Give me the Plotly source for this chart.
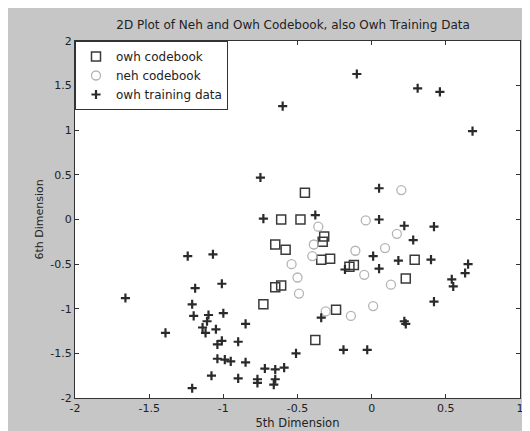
import plotly.graph_objects as go

# owh codebook (squares)
owh_cb_x = [-0.45, -0.61, -0.48, -0.65, -0.58, -0.32, -0.33, -0.34, -0.28, -0.15, -0.12, 0.29, 0.23, -0.65, -0.61, -0.24, -0.38, -0.73]
owh_cb_y = [0.30, 0.0, 0.0, -0.28, -0.34, -0.19, -0.25, -0.45, -0.44, -0.53, -0.51, -0.45, -0.66, -0.76, -0.74, -1.01, -1.35, -0.95]

# neh codebook (circles)
neh_cb_x = [0.20, -0.04, 0.17, 0.09, -0.11, -0.36, -0.39, -0.40, -0.54, -0.50, -0.49, -0.05, 0.13, 0.01, -0.14, -0.31]
neh_cb_y = [0.33, -0.01, -0.16, -0.32, -0.35, -0.08, -0.28, -0.41, -0.50, -0.65, -0.83, -0.62, -0.73, -0.97, -1.08, -1.03]

# owh training data (+)
owh_tr_x = [-0.60, -0.10, 0.31, 0.46, 0.68, 0.05, -0.38, 0.05, 0.22, 0.42, 0.28, 0.01, 0.18, 0.40, 0.05,
            -0.18, 0.65, 0.63, 0.54, 0.55, 0.42, 0.22, 0.23, -0.34, -0.51, -0.19, -0.03, -0.65, -0.59, -0.65,
            -0.66, -1.24, -1.07, -1.19, -1.66, -1.21, -1.20, -1.10, -1.11, -1.14, -1.12, -1.05, -1.39, -1.04, -1.04,
            -1.08, -1.21, -1.01, -1.00, -0.85, -1.01, -0.90, -0.99, -0.95, -0.85, -0.72, -0.90, -0.77, -0.77, -0.75, -0.73]
owh_tr_y = [1.27, 1.63, 1.47, 1.43, 0.99, 0.35, 0.05, 0.0, -0.07, -0.08, -0.23, -0.41, -0.46, -0.45, -0.55,
            -0.56, -0.50, -0.60, -0.67, -0.75, -0.92, -1.14, -1.17, -1.10, -1.50, -1.46, -1.46, -1.68, -1.66, -1.79,
            -1.85, -0.41, -0.39, -0.77, -0.88, -0.95, -1.08, -1.07, -1.14, -1.21, -1.27, -1.23, -1.27, -1.40, -1.56,
            -1.75, -1.89, -0.72, -1.05, -1.17, -1.36, -1.37, -1.57, -1.59, -1.60, -1.67, -1.78, -1.79, -1.83, 0.47, 0.01]

x_ticks = [-2, -1.5, -1, -0.5, 0, 0.5, 1]
x_tick_labels = ["-2", "-1.5", "-1", "-0.5", "0", "0.5", "1"]
y_ticks = [-2, -1.5, -1, -0.5, 0, 0.5, 1, 1.5, 2]
y_tick_labels = ["-2", "-1.5", "-1", "-0.5", "0", "0.5", "1", "1.5", "2"]

FONT = "DejaVu Sans"

fig = go.Figure()
fig.add_trace(go.Scatter(x=owh_cb_x, y=owh_cb_y, mode="markers", name="owh codebook",
                         marker=dict(symbol="square-open", size=9, color="#3a3a3a", line=dict(width=1.5))))
fig.add_trace(go.Scatter(x=neh_cb_x, y=neh_cb_y, mode="markers", name="neh codebook",
                         marker=dict(symbol="circle-open", size=9, color="#b4b4b4", line=dict(width=1.3))))
fig.add_trace(go.Scatter(x=owh_tr_x, y=owh_tr_y, mode="markers", name="owh training data",
                         marker=dict(symbol="cross-thin-open", size=6.5, color="#2a2a2a", line=dict(width=2.2))))

axis_common = dict(showgrid=False, zeroline=False, showline=True, linecolor="#333", linewidth=1.2,
                   mirror="ticks", ticks="inside", ticklen=4, tickcolor="#333",
                   tickfont=dict(family=FONT, size=11, color="#222"))

fig.update_layout(
    width=530, height=431,
    paper_bgcolor="#c6c6c6", plot_bgcolor="white",
    margin=dict(l=67, r=18, t=33, b=39),
    title=dict(text="2D Plot of Neh and Owh Codebook, also Owh Training Data",
               font=dict(family=FONT, size=12, color="#222"),
               x=0.49, xanchor="center", y=1 - 17 / 431, yanchor="middle", xref="paper"),
    xaxis=dict(range=[-2, 1], tickvals=x_ticks, ticktext=x_tick_labels,
               title=dict(text="5th Dimension", font=dict(family=FONT, size=11.5, color="#222"), standoff=4),
               **axis_common),
    yaxis=dict(range=[-2, 2], tickvals=y_ticks, ticktext=y_tick_labels,
               title=dict(text="6th Dimension", font=dict(family=FONT, size=11, color="#222"), standoff=4),
               **axis_common),
    legend=dict(x=0, y=1, xanchor="left", yanchor="top", bgcolor="white", bordercolor="#333", borderwidth=1,
                font=dict(family=FONT, size=12, color="#222"), tracegroupgap=0),
    showlegend=True,
)

fig.write_html("out.html")
